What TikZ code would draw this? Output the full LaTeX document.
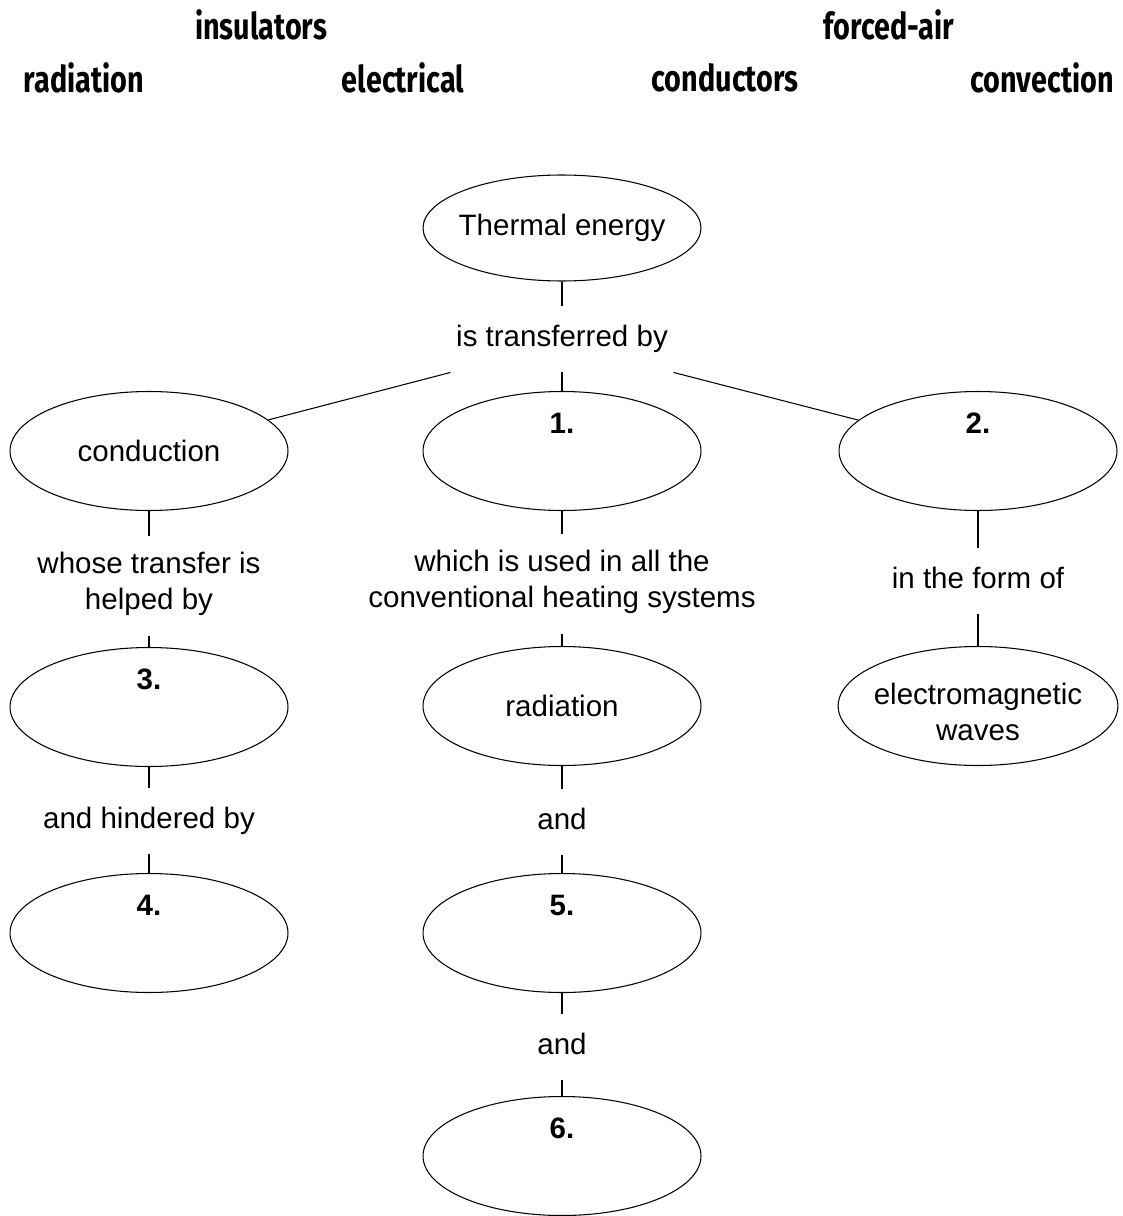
\documentclass[tikz,border=0pt]{standalone}
\usepackage{fontspec}
\setmainfont{Liberation Sans}
\newfontfamily\wordfont[FakeStretch=0.78]{Fira Sans}
\usetikzlibrary{shapes.geometric}

\newcommand{\mainsize}{\fontsize{16.8}{20.5}\selectfont}

\tikzset{
  oval/.style={draw, ellipse, minimum width=5.56cm, minimum height=2.38cm,
    inner xsep=-3pt, inner ysep=0pt, align=center},
  lbl/.style={align=center, inner xsep=3pt, inner ysep=8.5pt,
    execute at begin node=\strut, execute at end node=\strut},
  word/.style={font=\wordfont\bfseries\fontsize{21}{24}\selectfont},
  num/.style={font=\bfseries\mainsize, yshift=0.56cm}
}

\begin{document}
\begin{tikzpicture}[x=0.02cm, y=-0.02cm, font=\mainsize, line width=0.6pt]
  \useasboundingbox (0,0) rectangle (1122,1216);

  % word bank
  \node[word] (w1) at (261,25) {insulators};
  \node[word] (w2) at (889,25) {forced-air};
  \node[word] (w3) at (84,78) {radiation};
  \node[word] (w4) at (403,78) {electrical};
  \node[word] (w5) at (725,78) {conductors};
  \node[word] (w6) at (1042,78) {convection};

  % concept map
  \node[oval, minimum height=2.12cm] (te) at (562,228) {Thermal energy};
  \node[lbl] (tb) at (562,339) {is transferred by};

  \node[oval] (cond) at (149,451) {conduction};
  \node[oval, label={[num]center:1.}] (one) at (562,451) {};
  \node[oval, label={[num]center:2.}] (two) at (978,451) {};

  \node[lbl] (whose) at (149,586) {whose transfer is\\helped by};
  \node[lbl] (which) at (562,584) {which is used in all the\\conventional heating systems};
  \node[lbl] (form) at (978,581) {in the form of};

  \node[oval, label={[num]center:3.}] (three) at (149,707) {};
  \node[oval] (rad) at (562,706) {radiation};
  \node[oval] (em) at (978,706) {\rule{0pt}{19pt}electromagnetic\\waves};

  \node[lbl] (hind) at (149,821) {and hindered by};
  \node[lbl] (and1) at (562,822) {and};

  \node[oval, label={[num]center:4.}] (four) at (149,933) {};
  \node[oval, label={[num]center:5.}] (five) at (562,933) {};

  \node[lbl] (and2) at (562,1047) {and};
  \node[oval, label={[num]center:6.}] (six) at (562,1156) {};

  \draw (te) -- (tb);
  \draw (tb) -- (one);
  \draw (tb.south west) -- (cond);
  \draw (tb.south east) -- (two);

  \draw (cond) -- (whose);
  \draw (whose) -- (three);
  \draw (three) -- (hind);
  \draw (hind) -- (four);

  \draw (one) -- (which);
  \draw (which) -- (rad);
  \draw (rad) -- (and1);
  \draw (and1) -- (five);
  \draw (five) -- (and2);
  \draw (and2) -- (six);

  \draw (two) -- (form);
  \draw (form) -- (em);
\end{tikzpicture}
\end{document}
